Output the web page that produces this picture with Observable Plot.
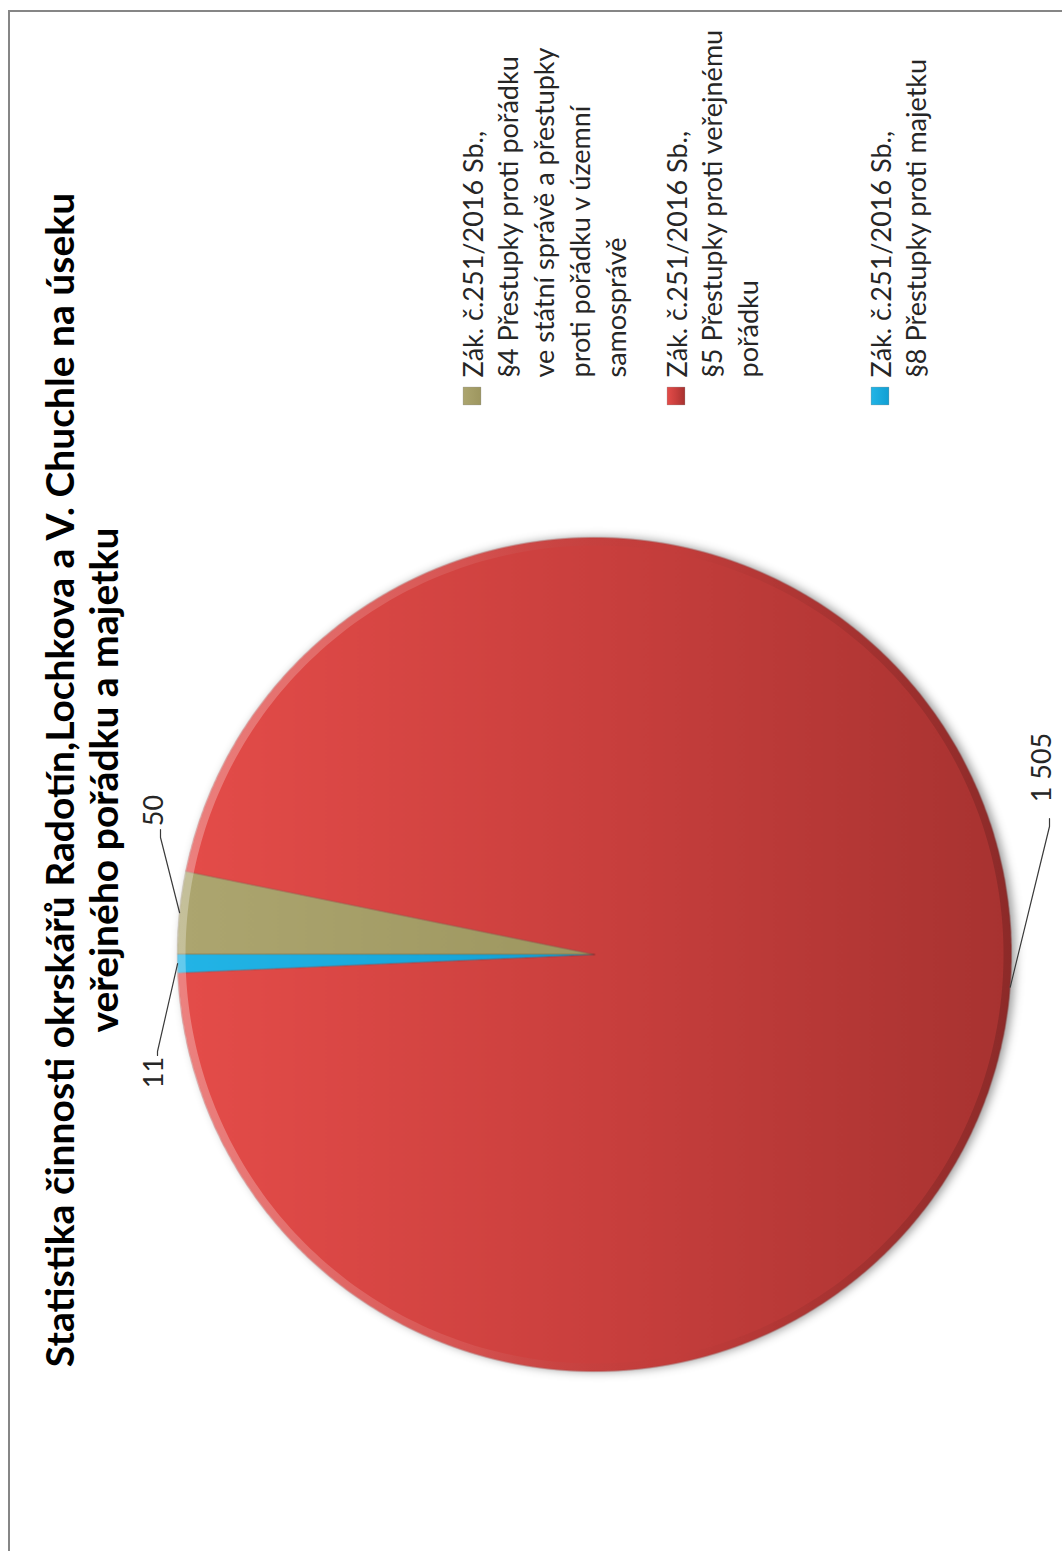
<!DOCTYPE html>
<html>
<head>
<meta charset="utf-8">
<script src="https://cdn.jsdelivr.net/npm/d3@7"></script>
<script src="https://cdn.jsdelivr.net/npm/@observablehq/plot@0.6"></script>
<style>
  html, body { margin: 0; padding: 0; background: #fff; overflow: hidden; }
  #rot { position: absolute; left: 0; top: 0; width: 1551px; height: 1062px; background: #fff;
         transform-origin: 0 0; transform: translateY(1551px) rotate(-90deg); overflow: hidden; }
  #frame { position: absolute; left: -20px; top: 7.5px; width: 1561px; height: 1100px;
           border: 2.6px solid #868686; box-sizing: border-box; }
  #chart { position: absolute; left: 0; top: 0; }
  .pie { filter: drop-shadow(0px 4px 5px rgba(0,0,0,0.38)); }
</style>
</head>
<body>
<svg width="0" height="0" style="position:absolute">
  <defs>
    <linearGradient id="gTan" x1="0" y1="0" x2="0" y2="1">
      <stop offset="0" stop-color="#ACA56F"/><stop offset="1" stop-color="#9D965F"/>
    </linearGradient>
    <linearGradient id="gRed" x1="0" y1="0" x2="0" y2="1">
      <stop offset="0" stop-color="#E44C49"/><stop offset="0.5" stop-color="#C93F3D"/><stop offset="1" stop-color="#A73230"/>
    </linearGradient>
    <linearGradient id="gBlue" x1="0" y1="0" x2="0" y2="1">
      <stop offset="0" stop-color="#22B4E6"/><stop offset="1" stop-color="#119FD3"/>
    </linearGradient>
    <linearGradient id="rim" x1="0" y1="0" x2="0" y2="1">
      <stop offset="0" stop-color="#fff" stop-opacity="0.30"/>
      <stop offset="0.35" stop-color="#fff" stop-opacity="0.08"/>
      <stop offset="0.6" stop-color="#000" stop-opacity="0"/>
      <stop offset="1" stop-color="#000" stop-opacity="0.16"/>
    </linearGradient>
  </defs>
</svg>
<div id="rot"><div id="frame"></div><div id="chart"></div></div>
<script>
// ---------------- DATA ----------------
const categories = [
  "Zák. č.251/2016 Sb., §4 Přestupky proti pořádku ve státní správě a přestupky proti pořádku v územní samosprávě",
  "Zák. č.251/2016 Sb., §5 Přestupky proti veřejnému pořádku",
  "Zák. č.251/2016 Sb., §8 Přestupky proti majetku"
];
const values = [50, 1505, 11];
const valueLabels = ["50", "1 505", "11"];
const legendLines = [
  ["Zák. č.251/2016 Sb.,", "§4 Přestupky proti pořádku", "ve státní správě a přestupky", "proti pořádku v územní", "samosprávě"],
  ["Zák. č.251/2016 Sb.,", "§5 Přestupky proti veřejnému", "pořádku"],
  ["Zák. č.251/2016 Sb.,", "§8 Přestupky proti majetku"]
];
const titleLines = [
  "Statistika činnosti okrskářů Radotín,Lochkova a V. Chuchle na úseku",
  "veřejného pořádku a majetku"
];
const sliceFills = ["url(#gTan)", "url(#gRed)", "url(#gBlue)"];

// ---------------- LAYOUT (original, un-rotated orientation) ----------------
const W = 1551, H = 1062;
const cx = 596, cy = 594, R = 417;
const FONT = "Lato";

function fitSize(text, weight, target) {
  const ctx = document.createElement("canvas").getContext("2d");
  ctx.font = `${weight} 100px ${FONT}`;
  return 100 * target / ctx.measureText(text).width;
}
const titleSize = fitSize(titleLines[0], "bold", 1176);
const legendSize = Math.min(27, fitSize(legendLines[0][1], "normal", 330));

const rows = categories.map((c, i) => ({cat: c, value: values[i], label: valueLabels[i]}));
const arcs = d3.pie().sort(null).value(d => d.value)(rows);

const polar = (a, r) => ({x: cx + r * Math.sin(a), y: cy - r * Math.cos(a)});

const slicePts = arcs.flatMap(a => {
  const n = Math.max(3, Math.ceil((a.endAngle - a.startAngle) / 0.008));
  const pts = [{cat: a.data.cat, x: cx, y: cy}];
  for (let k = 0; k <= n; k++) {
    const t = a.startAngle + (a.endAngle - a.startAngle) * k / n;
    pts.push({cat: a.data.cat, ...polar(t, R)});
  }
  return pts;
});
// bevel ring: outer circle then inner circle in reverse (hole)
const ringW = 8;
const rimPts = [
  ...d3.range(0, 361).map(k => polar(k * Math.PI / 180, R)),
  ...d3.range(360, -1, -1).map(k => polar(k * Math.PI / 180, R - ringW))
];

// label placement (Excel best-fit positions)
const labelPlace = {
  "50":    {x: 740, y: 162, path: [[721, 160], [713, 160]]},
  "1 505": {x: 783, y: 1050, path: [[732, 1049], [724, 1049]]},
  "11":    {x: 478, y: 162, path: [[495, 157], [499, 157]]}
};
const labelRows = arcs.map(a => ({label: a.data.label, ...labelPlace[a.data.label]}));
const leaderPts = arcs.flatMap((a, i) => {
  const p = polar((a.startAngle + a.endAngle) / 2, R);
  const lp = labelPlace[a.data.label].path;
  return [{k: i, x: lp[0][0], y: lp[0][1]}, {k: i, x: lp[1][0], y: lp[1][1]}, {k: i, x: p.x, y: p.y}];
});

const legendRows = legendLines.flatMap((lines, i) => lines.map((t, j) => ({t, i, j})));

const chart = Plot.plot({
  width: W, height: H,
  margin: 0,
  style: {fontFamily: FONT, background: "transparent", overflow: "visible"},
  x: {domain: [0, W], range: [0, W], axis: null},
  y: {domain: [0, H], range: [0, H], axis: null},
  color: {type: "ordinal", domain: categories, range: sliceFills},
  marks: [
    // pie slices
    Plot.line(slicePts, {x: "x", y: "y", z: "cat", fill: "cat", stroke: "rgba(60,20,20,0.2)", strokeWidth: 0.8,
      curve: "linear-closed", className: "pie"}),
    // bevel rim
    Plot.line(rimPts, {x: "x", y: "y", fill: "url(#rim)", stroke: "none", curve: "linear-closed"}),
    // leader lines
    Plot.line(leaderPts, {x: "x", y: "y", z: "k", stroke: "#3a3a3a", strokeWidth: 1.2}),
    // data labels
    Plot.text(labelRows, {x: "x", y: "y", text: "label", textAnchor: "middle", lineAnchor: "bottom",
      fontSize: legendSize, fill: "#262626", fontFamily: FONT}),
    // title
    Plot.text(titleLines, {x: W / 2 - 5, y: (d, i) => 73 + i * 44, text: d => d, textAnchor: "middle",
      lineAnchor: "bottom", fontSize: titleSize, fontWeight: "bold", fill: "#000", fontFamily: FONT}),
    // legend markers
    Plot.dot(categories, {x: 1154.5, y: (d, i) => 471.5 + i * 204, fill: d => d, symbol: "square", r: 10,
      stroke: "rgba(0,0,0,0.25)", strokeWidth: 0.6}),
    // legend text
    Plot.text(legendRows, {x: 1173, y: d => 482 + d.i * 204 + d.j * 35.75, text: "t", textAnchor: "start",
      lineAnchor: "bottom", fontSize: legendSize, fill: "#262626", fontFamily: FONT})
  ]
});
document.getElementById("chart").appendChild(chart);
</script>
</body>
</html>
